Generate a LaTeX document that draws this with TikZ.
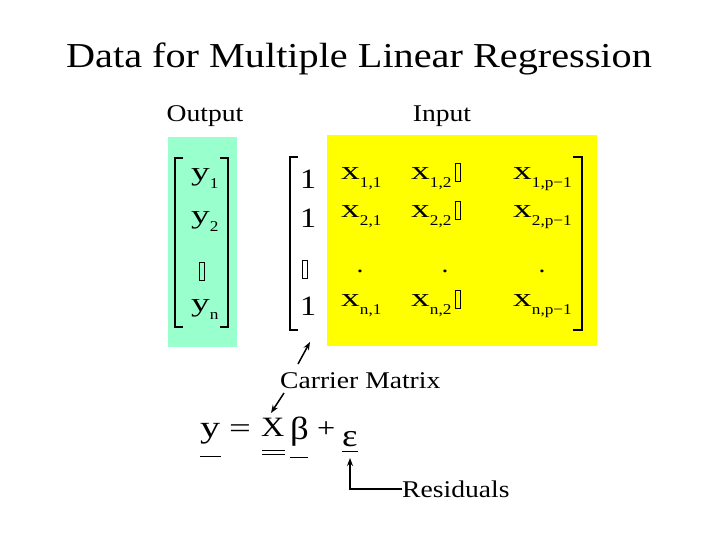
\documentclass[tikz,border=0pt]{standalone}
\usepackage{fontspec}
\setmainfont{Liberation Serif}[FakeStretch=1.15]
\usetikzlibrary{arrows.meta}
\definecolor{outcol}{RGB}{153,255,204}
\definecolor{incol}{RGB}{255,255,0}
\tikzset{
  ent/.style={inner sep=0pt, anchor=base west, font=\fontsize{24}{24}\selectfont},
  lbl/.style={inner sep=0pt, anchor=base, font=\fontsize{24}{24}\selectfont},
  eqn/.style={inner sep=0pt, anchor=base west, font=\fontsize{28}{28}\selectfont},
  gapbox/.style={draw, line width=1pt, minimum width=5pt, minimum height=18pt, inner sep=0pt},
  brk/.style={line width=1.3pt},
  arr/.style={-{Stealth[length=8pt,width=6pt]}, line width=1.5pt}
}
\newcommand{\bigx}{{\fontsize{26}{26}\selectfont\scalebox{1.25}[1]{x}}}
\newcommand{\bigy}{{\fontsize{26}{26}\selectfont\scalebox{1.25}[1]{y}}}
\newcommand{\subs}[1]{\raisebox{-8pt}{\fontsize{15}{15}\selectfont #1}}
\begin{document}
\begin{tikzpicture}[x=1pt, y=-1pt]
        \useasboundingbox[fill=white] (0,0) rectangle (720,540);

        % Titel und Beschriftungen
        \node[inner sep=0pt, anchor=base, font=\fontsize{35}{35}\selectfont] (title) at (359,68) {Data for Multiple Linear Regression};
        \node[lbl] (output) at (205,122) {Output};
        \node[lbl] (input) at (442,122) {Input};

        % Hintergruende
        \fill[outcol] (168,137) rectangle (237,347);
        \fill[incol] (327,135) rectangle (597,346);

        % Vektor y
        \draw[brk] (183,158) -- (175,158) -- (175,327) -- (183,327);
        \draw[brk] (220,158) -- (228,158) -- (228,327) -- (220,327);
        \node[ent] (y1) at (191,181) {\bigy\subs{1}};
        \node[ent] (y2) at (191,224) {\bigy\subs{2}};
        \node[gapbox] (yv) at (202,271) {};
        \node[ent] (yn) at (191,311) {\bigy\subs{n}};

        % Matrix X
        \draw[brk] (298,157) -- (290,157) -- (290,330) -- (298,330);
        \draw[brk] (573,157) -- (582,157) -- (582,330) -- (573,330);
        \foreach \r/\yb in {1/180, 2/218, n/306} {
            \pgfmathtruncatemacro{\yo}{\yb+9}
            \node[ent, font=\fontsize{28}{28}\selectfont] (one\r) at (300,\yo) {1};
            \node[ent] (x\r a) at (341,\yb) {\bigx\subs{\r,1}};
            \node[ent] (x\r b) at (411,\yb) {\bigx\subs{\r,2}};
            \node[gapbox] (g\r) at (458,\yb-7) {};
            \node[ent] (x\r c) at (513,\yb) {\bigx\subs{\r,p−1}};
        }
        \node[gapbox] (gv) at (305,269) {};
        \foreach \c in {360,445,542} {
            \node[lbl] (dot\c) at (\c,272) {.};
        }

        % Gleichung
        \node[eqn] (ey) at (200,437) {\scalebox{1.25}[1.1]{y}};
        \node[eqn] (eq) at (229,437) {\scalebox{1.2}[1]{=}};
        \node[eqn] (ex) at (261,436) {X};
        \node[eqn, font=\fontsize{32}{32}\selectfont] (eb) at (290,439) {β};
        \node[eqn] (ep) at (317,437) {+};
        \node[eqn, font=\fontsize{32}{32}\selectfont] (ee) at (342,446) {ε};
        \draw[line width=1pt] (200,456) -- (221,456);
        \draw[line width=1pt] (262,450) -- (285,450);
        \draw[line width=1pt] (262,454) -- (285,454);
        \draw[line width=1pt] (290,457) -- (308,457);
        \draw[line width=1pt] (342,451) -- (358,451);

        % Pfeile
        \node[ent] (carrier) at (280,388) {Carrier Matrix};
        \node[ent] (resid) at (402,497) {Residuals};
        \coordinate (ctail1) at (298,364);
        \coordinate (chead1) at (310,342);
        \coordinate (ctail2) at (284,393);
        \coordinate (chead2) at (271,413);
        \coordinate (efoot) at (350,458);
        \draw[arr] (ctail1) -- (chead1);
        \draw[arr] (ctail2) -- (chead2);
        \draw[arr] (resid.west) -| (efoot);
\end{tikzpicture}
\end{document}
